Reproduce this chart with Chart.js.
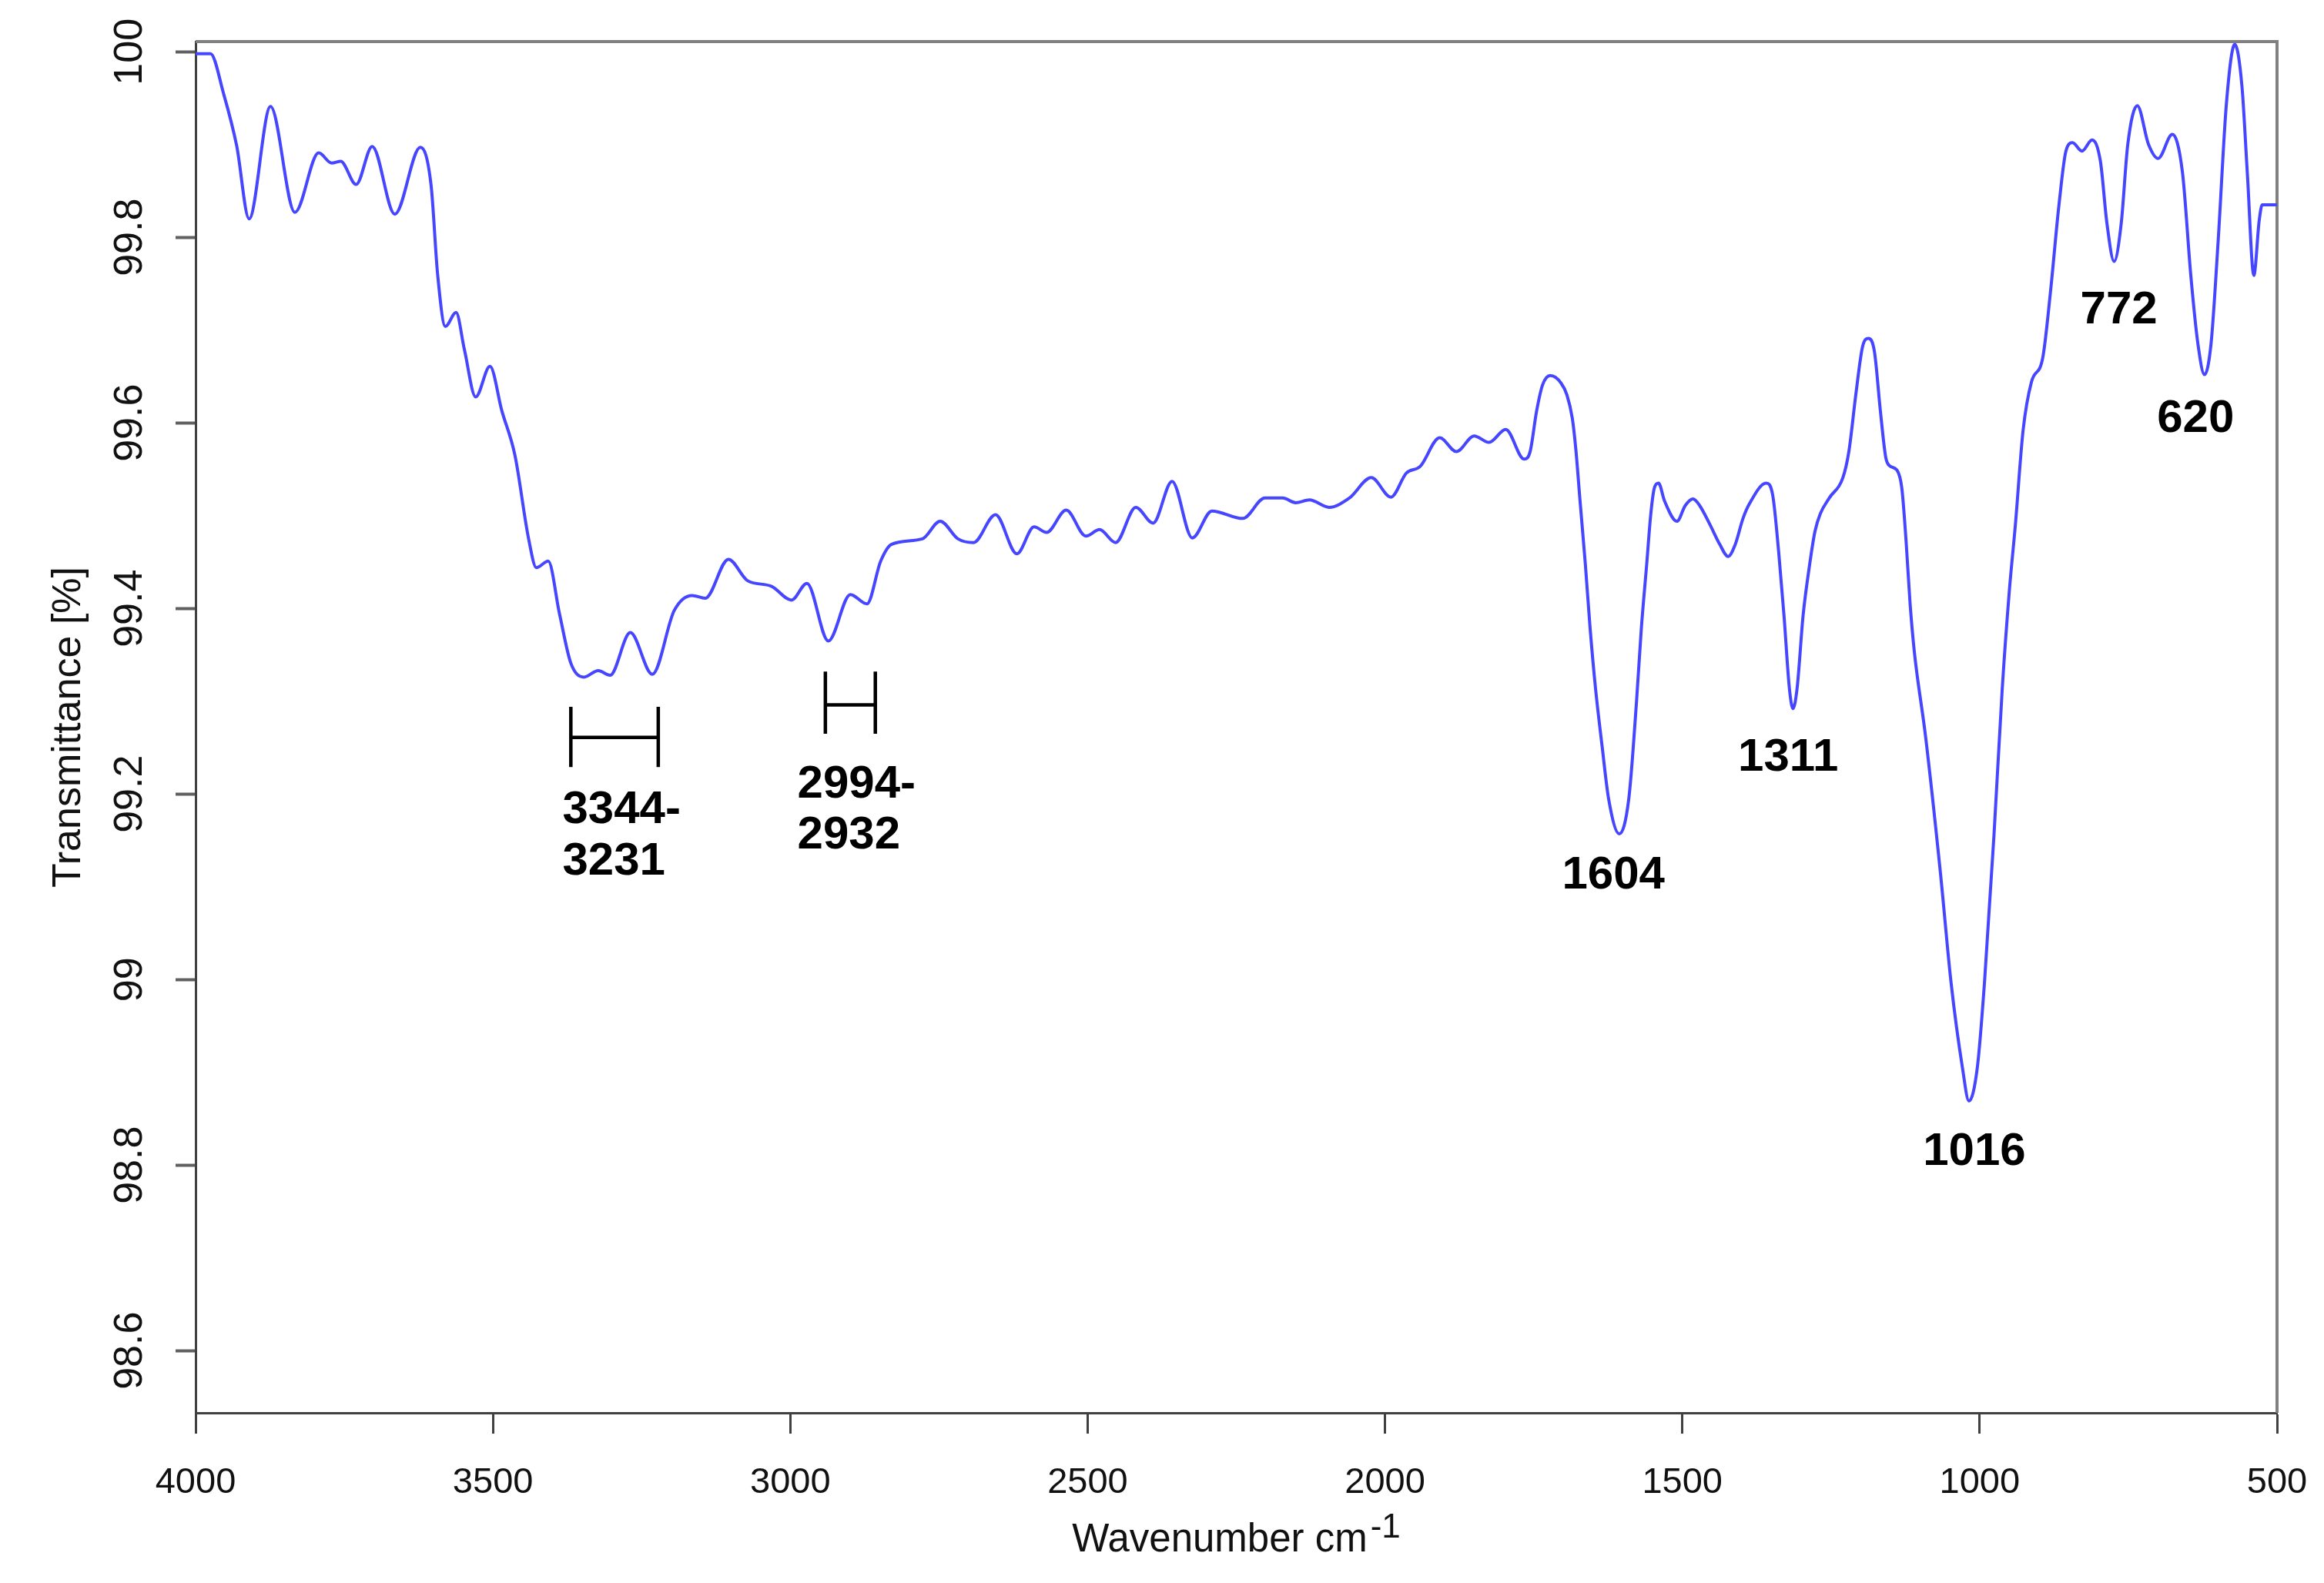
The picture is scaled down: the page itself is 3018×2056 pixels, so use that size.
<!DOCTYPE html>
<html>
<head>
<meta charset="utf-8">
<title>FTIR spectrum</title>
<script src="https://cdn.jsdelivr.net/npm/chart.js@4.4.1/dist/chart.umd.min.js"></script>
<style>
  html, body { margin: 0; padding: 0; background: #fff; }
  canvas { display: block; }
</style>
</head>
<body>
<canvas id="spectrum" width="3018" height="2056"></canvas>
<script>
// Spectrum, high to low wavenumber (cm-1)
const wavenumbers = [
  4000, 3975, 3953, 3931, 3910, 3874, 3833, 3793, 3771, 3756,
  3730, 3703, 3665, 3622, 3604, 3593, 3580, 3562, 3548, 3529,
  3505, 3485, 3463, 3440, 3427, 3407, 3388, 3369, 3347, 3323,
  3303, 3269, 3232, 3195, 3165, 3143, 3104, 3072, 3032, 2998,
  2972, 2936, 2899, 2871, 2848, 2830, 2778, 2748, 2718, 2692,
  2655, 2619, 2590, 2569, 2536, 2503, 2480, 2453, 2419, 2390,
  2358, 2324, 2291, 2239, 2202, 2172, 2150, 2127, 2094, 2060,
  2023, 1990, 1964, 1941, 1908, 1880, 1850, 1825, 1797, 1766,
  1756, 1745, 1735, 1722, 1704, 1694, 1685, 1679, 1672, 1663,
  1655, 1646, 1635, 1624, 1606, 1590, 1577, 1569, 1560, 1553,
  1547, 1540, 1530, 1509, 1495, 1482, 1471, 1454, 1437, 1423,
  1411, 1398, 1387, 1359, 1348, 1338, 1329, 1320, 1314, 1307,
  1297, 1286, 1277, 1268, 1253, 1230, 1220, 1208, 1197, 1187,
  1177, 1167, 1158, 1152, 1139, 1131, 1124, 1117, 1110, 1091,
  1066, 1048, 1029, 1018, 1004, 992, 976, 962, 950, 940,
  927, 913, 894, 881, 867, 855, 844, 828, 811, 797,
  786, 774, 762, 751, 735, 716, 700, 676, 659, 645,
  633, 622, 611, 599, 585, 571, 559, 550, 539, 530,
  525, 500
];

// Transmittance [%] at each wavenumber
const transmittance = [
  99.998, 99.998, 99.955, 99.899, 99.820, 99.941, 99.827, 99.891, 99.880, 99.882,
  99.857, 99.898, 99.825, 99.897, 99.856, 99.760, 99.704, 99.719, 99.679, 99.628,
  99.661, 99.613, 99.565, 99.475, 99.444, 99.451, 99.394, 99.341, 99.326, 99.333,
  99.328, 99.374, 99.329, 99.398, 99.414, 99.411, 99.453, 99.430, 99.424, 99.409,
  99.427, 99.365, 99.415, 99.405, 99.451, 99.469, 99.475, 99.494, 99.475, 99.471,
  99.501, 99.459, 99.488, 99.482, 99.506, 99.478, 99.485, 99.471, 99.509, 99.492,
  99.537, 99.476, 99.505, 99.497, 99.519, 99.519, 99.514, 99.517, 99.509, 99.519,
  99.541, 99.520, 99.546, 99.553, 99.584, 99.569, 99.586, 99.579, 99.593, 99.561,
  99.569, 99.613, 99.641, 99.651, 99.643, 99.630, 99.605, 99.571, 99.516, 99.447,
  99.378, 99.314, 99.252, 99.195, 99.157, 99.195, 99.300, 99.378, 99.447, 99.502,
  99.530, 99.535, 99.516, 99.494, 99.511, 99.518, 99.511, 99.491, 99.469, 99.456,
  99.469, 99.497, 99.513, 99.535, 99.522, 99.461, 99.392, 99.314, 99.292, 99.314,
  99.392, 99.447, 99.483, 99.502, 99.519, 99.541, 99.569, 99.632, 99.682, 99.691,
  99.677, 99.613, 99.563, 99.554, 99.549, 99.530, 99.475, 99.405, 99.354, 99.262,
  99.115, 98.996, 98.905, 98.869, 98.905, 98.996, 99.155, 99.314, 99.420, 99.490,
  99.592, 99.644, 99.670, 99.741, 99.833, 99.893, 99.902, 99.893, 99.905, 99.882,
  99.815, 99.774, 99.815, 99.900, 99.942, 99.900, 99.885, 99.911, 99.870, 99.759,
  99.685, 99.652, 99.685, 99.796, 99.945, 100.008, 99.963, 99.870, 99.759, 99.818,
  99.835, 99.835
];

const xTicks = [4000, 3500, 3000, 2500, 2000, 1500, 1000, 500];
const yTicks = [100, 99.8, 99.6, 99.4, 99.2, 99.0, 98.8, 98.6];

// Band annotations, anchored in data units (wavenumber, transmittance baseline)
const bandLabels = [
  { text: '3344-', x: 3383, y: 99.169, align: 'left' },
  { text: '3231',  x: 3383, y: 99.113, align: 'left' },
  { text: '2994-', x: 2988, y: 99.196, align: 'left' },
  { text: '2932',  x: 2988, y: 99.141, align: 'left' },
  { text: '1604',  x: 1616, y: 99.098, align: 'center' },
  { text: '1311',  x: 1322, y: 99.225, align: 'center' },
  { text: '1016',  x: 1009, y: 98.800, align: 'center' },
  { text: '772',   x: 766,  y: 99.707, align: 'center' },
  { text: '620',   x: 637,  y: 99.590, align: 'center' }
];

// Range brackets under the broad bands
const bandRanges = [
  { from: 3369, to: 3222, top: 99.294, bottom: 99.229, bar: 99.261 },
  { from: 2941, to: 2857, top: 99.332, bottom: 99.265, bar: 99.296 }
];

const FONT = '"Liberation Sans", Arial, sans-serif';

const decorations = {
  id: 'decorations',
  beforeDatasetsDraw(chart) {
    const { ctx, chartArea: a } = chart;
    // grey top and right frame
    ctx.save();
    ctx.strokeStyle = '#808080';
    ctx.lineWidth = 4;
    ctx.beginPath();
    ctx.moveTo(a.left, a.top);
    ctx.lineTo(a.right, a.top);
    ctx.lineTo(a.right, a.bottom);
    ctx.stroke();
    ctx.restore();
  },
  afterDraw(chart) {
    const { ctx, chartArea: a, scales: { x, y } } = chart;
    ctx.save();
    ctx.fillStyle = '#111';

    // y tick labels, rotated like the original
    ctx.font = '52px ' + FONT;
    ctx.textAlign = 'center';
    ctx.textBaseline = 'alphabetic';
    yTicks.forEach(v => {
      ctx.save();
      ctx.translate(a.left - 70, y.getPixelForValue(v));
      ctx.rotate(-Math.PI / 2);
      ctx.fillText(String(+v.toFixed(1)), 0, 0);
      ctx.restore();
    });

    // x tick labels
    ctx.font = '47px ' + FONT;
    xTicks.forEach(v => {
      ctx.fillText(String(v), x.getPixelForValue(v), a.bottom + 104);
    });

    // x axis title with superscript
    const main = 'Wavenumber cm';
    const sup = '-1';
    ctx.font = '51px ' + FONT;
    const wMain = ctx.measureText(main).width;
    ctx.font = '44px ' + FONT;
    const wSup = ctx.measureText(sup).width;
    const start = (a.left + a.right) / 2 - (wMain + 4 + wSup) / 2;
    ctx.textAlign = 'left';
    ctx.font = '51px ' + FONT;
    ctx.fillText(main, start, a.bottom + 180);
    ctx.font = '44px ' + FONT;
    ctx.fillText(sup, start + wMain + 4, a.bottom + 162);

    // range brackets
    ctx.strokeStyle = '#000';
    ctx.lineWidth = 4.5;
    bandRanges.forEach(r => {
      const x1 = x.getPixelForValue(r.from);
      const x2 = x.getPixelForValue(r.to);
      const yt = y.getPixelForValue(r.top);
      const yb = y.getPixelForValue(r.bottom);
      const ym = y.getPixelForValue(r.bar);
      ctx.beginPath();
      ctx.moveTo(x1, yt); ctx.lineTo(x1, yb);
      ctx.moveTo(x2, yt); ctx.lineTo(x2, yb);
      ctx.moveTo(x1, ym); ctx.lineTo(x2, ym);
      ctx.stroke();
    });

    // band labels
    ctx.fillStyle = '#000';
    ctx.font = 'bold 60px ' + FONT;
    bandLabels.forEach(l => {
      ctx.textAlign = l.align;
      ctx.fillText(l.text, x.getPixelForValue(l.x), y.getPixelForValue(l.y));
    });
    ctx.restore();
  }
};

new Chart(document.getElementById('spectrum'), {
  type: 'line',
  data: {
    datasets: [{
      label: 'Transmittance',
      data: wavenumbers.map((w, i) => ({ x: w, y: transmittance[i] })),
      borderColor: '#4646ff',
      borderWidth: 4,
      pointRadius: 0,
      fill: false,
      cubicInterpolationMode: 'monotone'
    }]
  },
  options: {
    responsive: false,
    animation: false,
    devicePixelRatio: 1,
    layout: { padding: { left: 0, right: 61, top: 54, bottom: 0 } },
    plugins: {
      legend: { display: false },
      tooltip: { enabled: false }
    },
    scales: {
      x: {
        type: 'linear',
        min: 500,
        max: 4000,
        reverse: true,
        afterBuildTicks: scale => { scale.ticks = xTicks.map(v => ({ value: v })); },
        afterFit: scale => { scale.height = 221; },
        ticks: { display: false },
        grid: {
          drawOnChartArea: false,
          drawTicks: true,
          tickLength: 27,
          tickWidth: 3,
          tickColor: '#404040'
        },
        border: { display: true, color: '#404040', width: 3 }
      },
      y: {
        type: 'linear',
        min: 98.533,
        max: 100.011,
        afterBuildTicks: scale => { scale.ticks = yTicks.map(v => ({ value: v })); },
        afterFit: scale => { scale.width = 254; },
        ticks: { display: false },
        grid: {
          drawOnChartArea: false,
          drawTicks: true,
          tickLength: 26,
          tickWidth: 4,
          tickColor: '#606060'
        },
        border: { display: true, color: '#404040', width: 3 },
        title: {
          display: true,
          text: 'Transmittance [%]',
          color: '#111',
          font: { family: FONT, size: 52 },
          padding: { top: 58, bottom: 0 }
        }
      }
    }
  },
  plugins: [decorations]
});
</script>
</body>
</html>
